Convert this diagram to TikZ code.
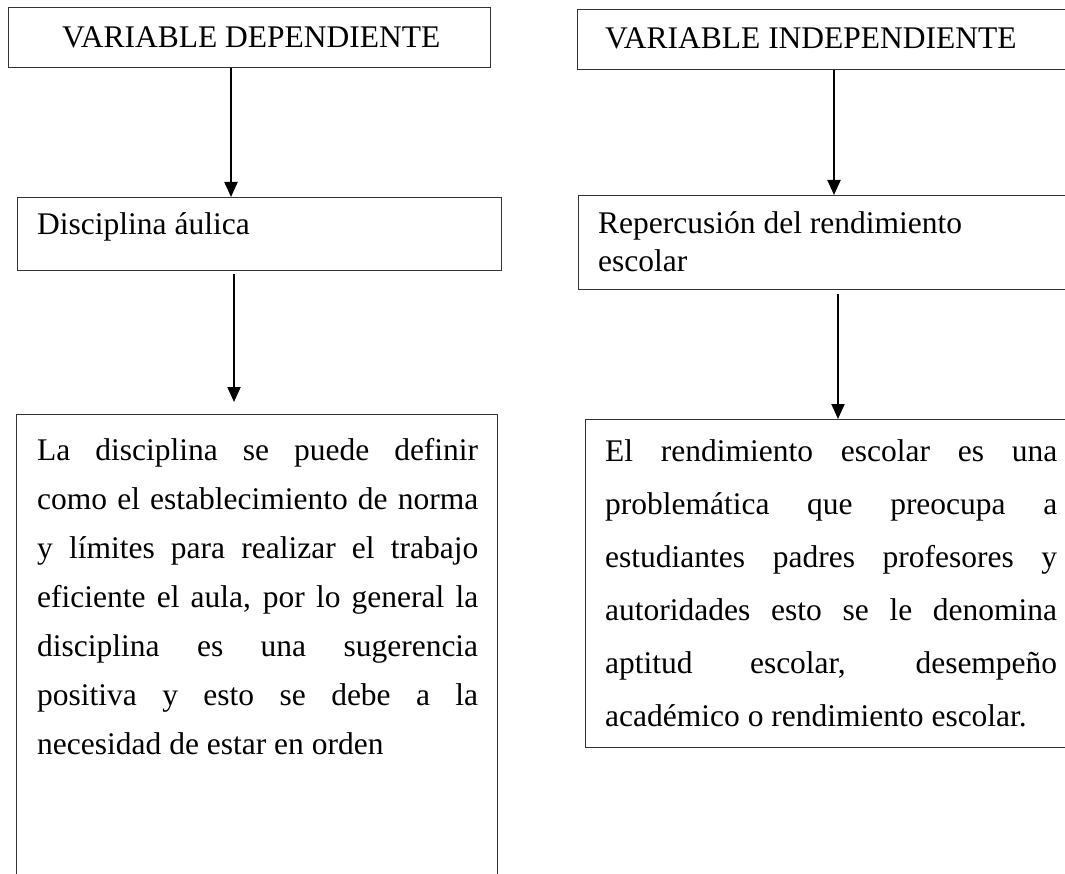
\documentclass[tikz,border=0pt]{standalone}
\usepackage{fontspec}
\setmainfont{Liberation Serif}
\usetikzlibrary{arrows.meta}
\begin{document}
\begin{tikzpicture}[x=1pt,y=-1pt,
  box/.style={draw=black!80, line width=1.3pt, rectangle, anchor=north west, inner sep=0pt},
  arr/.style={draw=black, line width=2pt, -{Triangle[width=13pt,length=15pt]}},
  txt/.style={anchor=base west, inner sep=0pt, font=\fontsize{31.5}{36}\selectfont},
]
\useasboundingbox (0,0) rectangle (1065,874);
\clip (0,0) rectangle (1065,874);
% left column boxes
\node[box, minimum width=482pt, minimum height=60pt] (b1) at (8,7) {};
\node[box, minimum width=484pt, minimum height=73pt] (b2) at (17,197) {};
\node[box, minimum width=481pt, minimum height=500pt] (b3) at (16,414) {};
% right column boxes (cut at the right edge)
\node[box, minimum width=520pt, minimum height=60pt] (b4) at (577,9) {};
\node[box, minimum width=520pt, minimum height=94pt] (b5) at (578,195) {};
\node[box, minimum width=520pt, minimum height=328pt] (b6) at (585,419) {};
% headings
\node[txt] (t1) at (62,48) {VARIABLE DEPENDIENTE};
\node[txt] (t4) at (605,49) {VARIABLE INDEPENDIENTE};
\node[txt] (t2) at (37,235) {Disciplina áulica};
\node[txt] (t5a) at (598,234) {Repercusión del rendimiento};
\node[txt] (t5b) at (598,272) {escolar};
% left body
\foreach \t [count=\i from 0] in {{La disciplina se puede definir},{como el establecimiento de norma},{y límites para realizar el trabajo},{eficiente el aula, por lo general la},{disciplina es una sugerencia},{positiva y esto se debe a la}}{
  \node[txt] (L\i) at (37,460+49*\i) {\makebox[441pt][s]{\t}};
}
\node[txt] (L6) at (37,754) {necesidad de estar en orden};
% right body
\foreach \t [count=\i from 0] in {{El rendimiento escolar es una},{problemática que preocupa a},{estudiantes padres profesores y},{autoridades esto se le denomina},{aptitud escolar, desempeño}}{
  \node[txt] (R\i) at (605,461+53*\i) {\makebox[452pt][s]{\t}};
}
\node[txt] (R5) at (605,726) {académico o rendimiento escolar.};
% arrows
\draw[arr] (b1.south -| 231,0) -- (b2.north -| 231,0);
\draw[arr, shorten <=3pt, shorten >=12pt] (b2.south -| 234,0) -- (b3.north -| 234,0);
\draw[arr] (b4.south -| 834,0) -- (b5.north -| 834,0);
\draw[arr, shorten <=4pt] (b5.south -| 838,0) -- (b6.north -| 838,0);
\end{tikzpicture}
\end{document}
